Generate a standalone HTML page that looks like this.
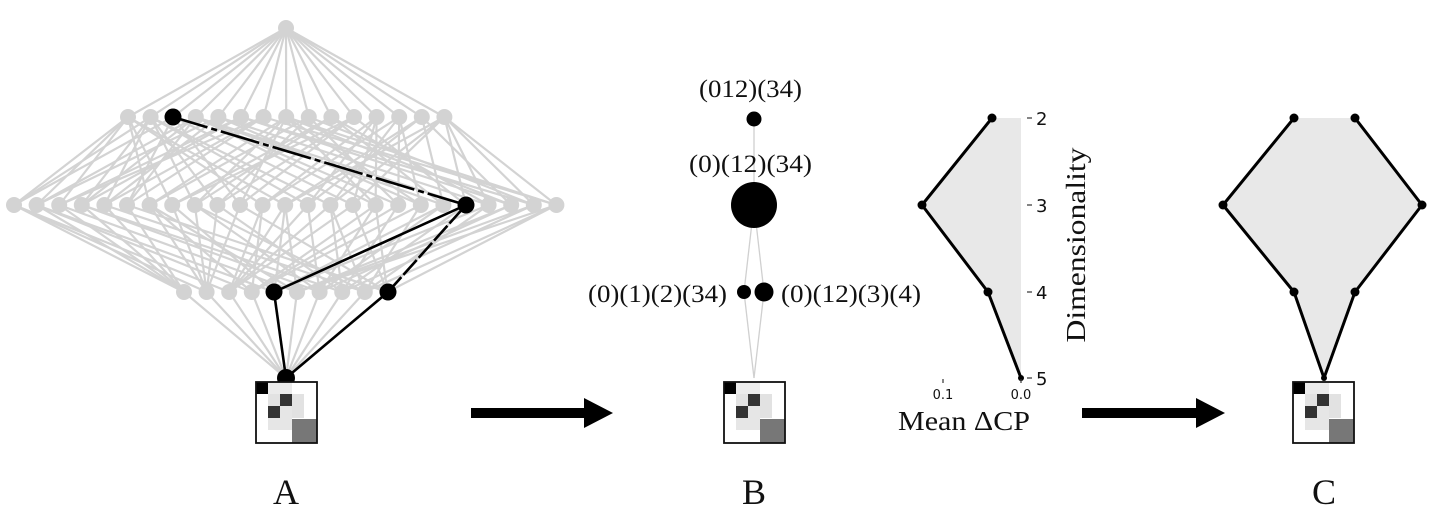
<!DOCTYPE html>
<html><head><meta charset="utf-8"><style>
html,body{margin:0;padding:0;background:#fff;}
svg{display:block;}
text{font-family:"Liberation Serif",serif;fill:#111;}
.s{font-family:"DejaVu Sans","Liberation Sans",sans-serif;}
</style></head><body>
<svg id="sv" width="1456" height="527" viewBox="0 0 1456 527" xmlns="http://www.w3.org/2000/svg">
<g id="lat" stroke="#d3d3d3" stroke-width="2.2"></g>
<g id="latn" fill="#d3d3d3"></g>
<g stroke="#000" stroke-width="2.6" fill="none">
<line x1="286" y1="378" x2="274" y2="292"/>
<line x1="274" y1="292" x2="466" y2="205"/>
<line x1="286" y1="378" x2="388" y2="292"/>
<line x1="388" y1="292" x2="466" y2="205" stroke-dasharray="20 3"/>
<line x1="466" y1="205" x2="173" y2="117" stroke-dasharray="40 4 6 4"/>
</g>
<g fill="#000">
<circle cx="173" cy="117" r="8.5"/><circle cx="466" cy="205" r="8.5"/>
<circle cx="274" cy="292" r="8.5"/><circle cx="388" cy="292" r="8.5"/>
<circle cx="286" cy="378" r="9"/>
</g>
<defs>
<g id="mat">
<rect x="0" y="0" width="61" height="61" fill="#fff"/>
<rect x="12" y="0" width="24" height="24" fill="#ebebeb"/>
<rect x="12" y="12" width="36" height="24" fill="#e2e2e2"/>
<rect x="12" y="24" width="24" height="24" fill="#e6e6e6"/>
<rect x="0" y="0" width="12" height="12" fill="#000"/>
<rect x="24" y="12" width="12" height="12" fill="#333"/>
<rect x="12" y="24" width="12" height="12" fill="#333"/>
<rect x="36" y="37" width="25" height="24" fill="#777"/>
<rect x="0" y="0" width="61" height="61" fill="none" stroke="#111" stroke-width="1.8"/>
</g>
</defs>
<use href="#mat" x="256" y="382"/>
<use href="#mat" x="724" y="382"/>
<use href="#mat" x="1293" y="382"/>
<g stroke="#d0d0d0" stroke-width="1.3">
<line x1="754" y1="119" x2="754" y2="205"/>
<line x1="754" y1="205" x2="744" y2="292"/>
<line x1="754" y1="205" x2="764" y2="292"/>
<line x1="744" y1="292" x2="754" y2="378"/>
<line x1="764" y1="292" x2="754" y2="378"/>
</g>
<g fill="#000">
<circle cx="754" cy="119" r="7.5"/><circle cx="754" cy="205" r="23"/>
<circle cx="744" cy="292" r="7"/><circle cx="764" cy="292" r="9.5"/>
</g>
<g font-size="25">
<text x="699" y="97" textLength="103" lengthAdjust="spacingAndGlyphs">(012)(34)</text>
<text x="689" y="172" textLength="123" lengthAdjust="spacingAndGlyphs">(0)(12)(34)</text>
<text x="588" y="302" textLength="139" lengthAdjust="spacingAndGlyphs">(0)(1)(2)(34)</text>
<text x="781" y="302" textLength="140" lengthAdjust="spacingAndGlyphs">(0)(12)(3)(4)</text>
</g>
<rect x="471" y="408" width="118" height="10" fill="#000"/>
<polygon points="584,398 613,413 584,428" fill="#000"/>
<rect x="1082" y="408" width="118" height="10" fill="#000"/>
<polygon points="1196,398 1225,413 1196,428" fill="#000"/>
<polygon points="992,118 1021,118 1021,378 988,292 922,205" fill="#e8e8e8"/>
<polyline points="992,118 922,205 988,292 1021,378" fill="none" stroke="#000" stroke-width="3" stroke-linejoin="round"/>
<g fill="#000"><circle cx="992" cy="118" r="4.5"/><circle cx="922" cy="205" r="4.5"/><circle cx="988" cy="292" r="4.5"/><circle cx="1021" cy="378" r="3"/></g>
<g stroke="#333" stroke-width="1.2">
<line x1="1027" y1="118" x2="1032" y2="118"/><line x1="1027" y1="205" x2="1032" y2="205"/>
<line x1="1027" y1="292" x2="1032" y2="292"/><line x1="1027" y1="378" x2="1032" y2="378"/>
<line x1="943" y1="379" x2="943" y2="383"/><line x1="1021" y1="379" x2="1021" y2="383"/>
</g>
<g fill="#111">
<text class="s" x="1036" y="125" font-size="18">2</text><text class="s" x="1036" y="212" font-size="18">3</text>
<text class="s" x="1036" y="299" font-size="18">4</text><text class="s" x="1036" y="385" font-size="18">5</text>
<text class="s" x="943" y="399" font-size="13" text-anchor="middle">0.1</text>
<text class="s" x="1021" y="399" font-size="13" text-anchor="middle">0.0</text>
</g>
<text x="964" y="430" font-size="27" text-anchor="middle" textLength="132" lengthAdjust="spacingAndGlyphs">Mean ΔCP</text>
<text transform="translate(1085,245) rotate(-90)" font-size="27" text-anchor="middle" textLength="195" lengthAdjust="spacingAndGlyphs">Dimensionality</text>
<polygon points="1294,118 1355,118 1422,205 1355,292 1324,378 1294,292 1223,205" fill="#e8e8e8"/>
<polyline points="1294,118 1223,205 1294,292 1324,378 1355,292 1422,205 1355,118" fill="none" stroke="#000" stroke-width="3" stroke-linejoin="round"/>
<g fill="#000"><circle cx="1294" cy="118" r="4.5"/><circle cx="1355" cy="118" r="4.5"/><circle cx="1223" cy="205" r="4.5"/><circle cx="1422" cy="205" r="4.5"/><circle cx="1294" cy="292" r="4.5"/><circle cx="1355" cy="292" r="4.5"/><circle cx="1324" cy="378" r="3"/></g>
<g font-size="36" text-anchor="middle">
<text x="286" y="504">A</text><text x="754" y="504">B</text><text x="1324" y="504">C</text>
</g>
</svg>
<script>
(function(){
function parts(n){var res=[[]];for(var i=0;i<n;i++){var nr=[];res.forEach(function(p){for(var b=0;b<p.length;b++){var q=p.map(function(x){return x.slice();});q[b].push(i);nr.push(q);}var q2=p.map(function(x){return x.slice();});q2.push([i]);nr.push(q2);});res=nr;}return res;}
var P=parts(5);var rows={1:[],2:[],3:[],4:[],5:[]};
P.forEach(function(p){rows[p.length].push(p);});
var ys={1:28,2:117,3:205,4:292,5:378};
var x0={1:286,2:128,3:14,4:184,5:286};
var pos=new Map();
function key(p){return p.map(function(b){return b.slice().sort().join('');}).sort().join('|');}
for(var k=1;k<=5;k++){rows[k].forEach(function(p,i){pos.set(key(p),[x0[k]+i*22.6,ys[k],p]);});}
var g=document.getElementById('lat'),gn=document.getElementById('latn'),NS='http://www.w3.org/2000/svg';
pos.forEach(function(v){var p=v[2];for(var a=0;a<p.length;a++)for(var b=a+1;b<p.length;b++){var q=[];for(var c=0;c<p.length;c++)if(c!==a&&c!==b)q.push(p[c]);q.push(p[a].concat(p[b]));var w=pos.get(key(q));var l=document.createElementNS(NS,'line');l.setAttribute('x1',v[0]);l.setAttribute('y1',v[1]);l.setAttribute('x2',w[0]);l.setAttribute('y2',w[1]);g.appendChild(l);}});
pos.forEach(function(v){var c=document.createElementNS(NS,'circle');c.setAttribute('cx',v[0]);c.setAttribute('cy',v[1]);c.setAttribute('r',8);gn.appendChild(c);});
})();
</script>
</body></html>
